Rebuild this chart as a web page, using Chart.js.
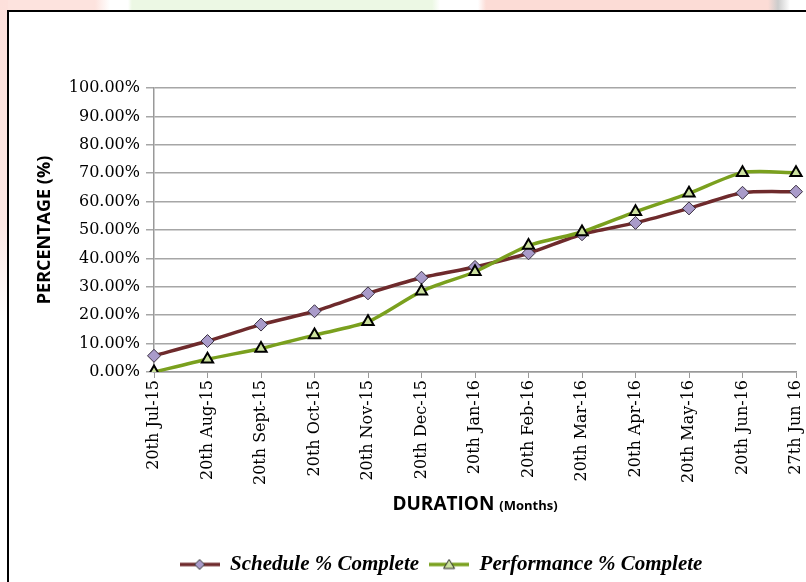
<!DOCTYPE html>
<html>
<head>
<meta charset="utf-8">
<script src="https://cdn.jsdelivr.net/npm/chart.js"></script>
<style>
  html, body { margin: 0; padding: 0; background: #fff; }
  #wrap { position: relative; width: 806px; height: 582px; overflow: hidden; }
  #bgTop { position: absolute; left: 0; top: 0; width: 806px; height: 12px;
    background: linear-gradient(90deg, #fde3de 0, #fde3de 95px, #fff 110px, #fff 128px, #ecf8e4 132px, #ecf8e4 432px, #fff 440px, #fff 478px, #fcdcd6 486px, #fcdcd6 768px, #ccc 778px, #fff 790px); }
  #bgLeft { position: absolute; left: 0; top: 0; width: 8px; height: 320px;
    background: linear-gradient(180deg, #fde0db 0, #fde8e4 70%, #fff 100%); }
  #box { position: absolute; left: 7px; top: 10px; width: 820px; height: 600px;
    border: 2px solid #000; background: #fff; }
  canvas { position: absolute; left: 0; top: 0; }
</style>
</head>
<body>
<div id="wrap">
  <div id="bgTop"></div>
  <div id="bgLeft"></div>
  <div id="box"></div>
  <canvas id="trendChart" width="806" height="582"></canvas>
</div>
<script>
const categories = ['20th Jul-15', '20th Aug-15', '20th Sept-15', '20th Oct-15', '20th Nov-15',
  '20th Dec-15', '20th Jan-16', '20th Feb-16', '20th Mar-16', '20th Apr-16', '20th May-16',
  '20th Jun-16', '27th Jun 16'];
const scheduleValues = [5.7, 10.9, 16.7, 21.4, 27.7, 33.2, 37.0, 41.8, 48.5, 52.5, 57.6, 63.1, 63.5];
const performanceValues = [0.0, 4.5, 8.3, 13.0, 17.7, 28.4, 35.3, 44.5, 49.3, 56.4, 62.9, 70.2, 70.2];
const yTicks = [0, 10, 20, 30, 40, 50, 60, 70, 80, 90, 100];

const scheduleLine = '#6e2a2c';
const scheduleFill = '#a99bca';
const perfLine = '#7aa01e';
const perfFill = '#cde2a0';

// legend swatch: line with the marker on it, like the spreadsheet legend
function legendSwatch(lineColor, drawMarker) {
  const c = document.createElement('canvas');
  c.width = 40; c.height = 16;
  const g = c.getContext('2d');
  g.strokeStyle = lineColor; g.lineWidth = 3.5;
  g.beginPath(); g.moveTo(0, 8); g.lineTo(40, 8); g.stroke();
  drawMarker(g, 20, 8);
  return c;
}
const schedSwatch = legendSwatch(scheduleLine, (g, x, y) => {
  g.beginPath(); g.moveTo(x, y - 5); g.lineTo(x + 5, y); g.lineTo(x, y + 5); g.lineTo(x - 5, y); g.closePath();
  g.fillStyle = scheduleFill; g.fill(); g.strokeStyle = '#333'; g.lineWidth = 1; g.stroke();
});
const perfSwatch = legendSwatch(perfLine, (g, x, y) => {
  g.beginPath(); g.moveTo(x, y - 5); g.lineTo(x + 5.5, y + 4); g.lineTo(x - 5.5, y + 4); g.closePath();
  g.fillStyle = perfFill; g.fill(); g.strokeStyle = '#222'; g.lineWidth = 1; g.stroke();
});

// x axis title with a smaller "(Months)" part
const xTitlePlugin = {
  id: 'xTitle',
  afterLayout(chart) {
    // the legend sits a little right of the page centre
    const lg = chart.legend;
    if (lg) { lg.left += 26; lg.right += 26; lg.top += 3; lg.bottom += 3; }
  },
  afterDraw(chart) {
    const { ctx, chartArea } = chart;
    const cx = (chartArea.left + chartArea.right) / 2;
    const y = 510;
    ctx.save();
    ctx.fillStyle = '#000';
    ctx.textBaseline = 'alphabetic';
    ctx.textAlign = 'left';
    ctx.font = 'bold 19px "Open Sans"';
    const w1 = ctx.measureText('DURATION ').width;
    ctx.font = 'bold 13px "Open Sans"';
    const w2 = ctx.measureText('(Months)').width;
    const x = cx - (w1 + w2) / 2;
    ctx.font = 'bold 19px "Open Sans"';
    ctx.fillText('DURATION ', x, y);
    ctx.font = 'bold 13px "Open Sans"';
    ctx.fillText('(Months)', x + w1, y);
    ctx.restore();
  }
};

const ctx = document.getElementById('trendChart').getContext('2d');
new Chart(ctx, {
  type: 'line',
  data: {
    labels: categories,
    datasets: [{
      label: 'Schedule % Complete',
      data: scheduleValues,
      borderColor: scheduleLine,
      borderWidth: 3.5,
      backgroundColor: scheduleFill,
      pointStyle: 'rectRot',
      pointRadius: 6.5,
      pointBackgroundColor: scheduleFill,
      pointBorderColor: '#3a3040',
      pointBorderWidth: 1,
      tension: 0.25,
      order: 1
    }, {
      label: 'Performance % Complete',
      data: performanceValues,
      borderColor: perfLine,
      borderWidth: 3.5,
      backgroundColor: perfFill,
      pointStyle: 'triangle',
      pointRadius: 6.5,
      pointBackgroundColor: perfFill,
      pointBorderColor: '#000',
      pointBorderWidth: 2,
      tension: 0.25,
      order: 0
    }]
  },
  options: {
    responsive: false,
    animation: false,
    layout: { padding: { left: 34, right: 10, top: 88, bottom: 0 } },
    plugins: {
      tooltip: { enabled: false },
      legend: {
        position: 'bottom',
        labels: {
          usePointStyle: true,
          pointStyleWidth: 40,
          color: '#000',
          padding: 10,
          font: { family: '"Liberation Serif"', size: 21, style: 'italic', weight: 'bold' },
          sort: (a, b) => a.datasetIndex - b.datasetIndex,
          generateLabels: (chart) => chart.data.datasets.map((ds, i) => ({
            text: ds.label,
            pointStyle: i === 0 ? schedSwatch : perfSwatch,
            fillStyle: ds.backgroundColor,
            strokeStyle: ds.borderColor,
            lineWidth: 0,
            fontColor: '#000',
            datasetIndex: i,
            hidden: false
          }))
        }
      }
    },
    scales: {
      x: {
        offset: false,
        grid: { display: true, drawOnChartArea: false, color: '#999', tickLength: 6 },
        border: { color: '#999', width: 1.5 },
        ticks: {
          color: '#000', autoSkip: false, maxRotation: 90, minRotation: 90, padding: 2,
          font: { family: '"DejaVu Serif"', size: 16 }
        },
        afterFit: (s) => {
          s.height = 582 - 372 - (s.chart.legend ? s.chart.legend.height : 40);
          s.paddingRight = 0;
        }
      },
      y: {
        min: 0, max: 100,
        afterBuildTicks: (s) => { s.ticks = yTicks.map(v => ({ value: v })); },
        grid: { color: '#a6a6a6', lineWidth: 1.5, tickLength: 8 },
        border: { color: '#999', width: 1.5 },
        ticks: {
          color: '#000', padding: 6,
          font: { family: '"DejaVu Serif"', size: 16 },
          callback: (v) => v.toFixed(2) + '%'
        },
        title: {
          display: true, text: 'PERCENTAGE (%)', color: '#000',
          padding: { top: 0, bottom: 4 },
          font: { family: '"Open Sans"', size: 18, weight: 'bold' }
        },
        afterFit: (s) => { s.width = 154 - 34; }
      }
    }
  },
  plugins: [xTitlePlugin]
});
</script>
</body>
</html>
